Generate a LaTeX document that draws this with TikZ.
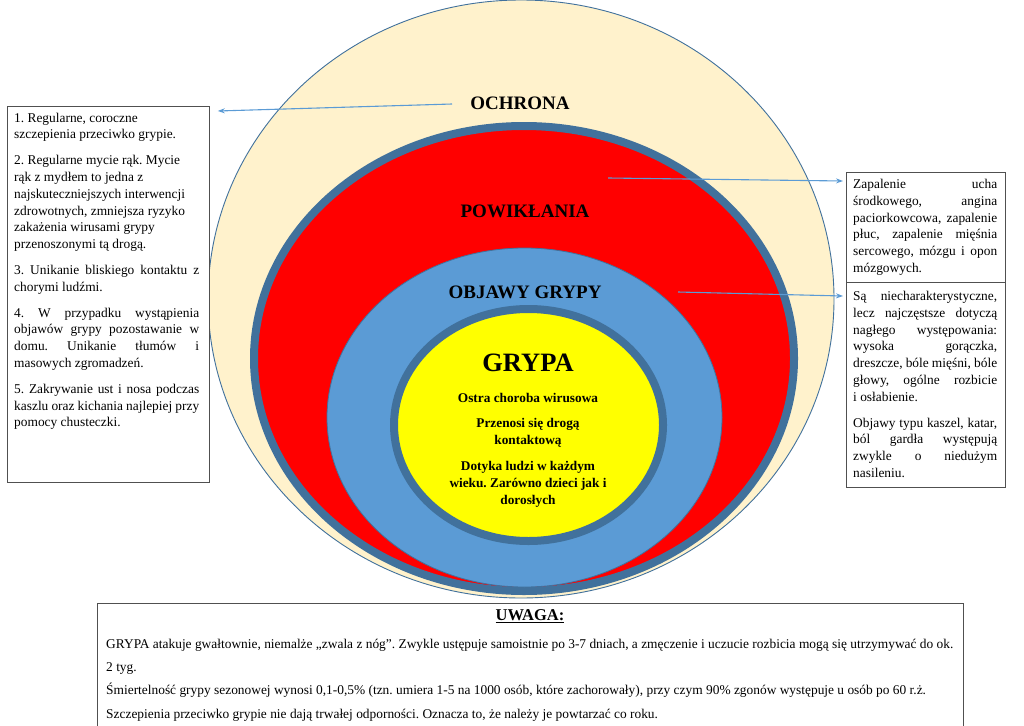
\documentclass[tikz,border=0pt]{standalone}
\usepackage{fontspec}
\setmainfont{Liberation Serif}
\usetikzlibrary{arrows.meta,shapes.geometric}
\definecolor{cream}{HTML}{FFF2CC}
\definecolor{bordblue}{HTML}{41719C}
\definecolor{midblue}{HTML}{5B9BD5}
\definecolor{redfill}{HTML}{FF0000}
\definecolor{yel}{HTML}{FFFF00}
\definecolor{boxgray}{HTML}{505050}
\newcommand\jl[2]{\makebox[#1][s]{#2}}
\frenchspacing
\begin{document}
\begin{tikzpicture}[x=1pt,y=-1pt,
  ring/.style={ellipse, inner sep=0, outer sep=0},
  lbl/.style={font=\bfseries\fontsize{19}{22}\selectfont, inner sep=0},
  inlbl/.style={font=\bfseries\fontsize{13.3}{17}\selectfont, align=center, inner sep=0},
  txtbox/.style={draw=boxgray, line width=0.8pt, anchor=north west, inner sep=0, fill=white},
  bodytxt/.style={anchor=north west, inner sep=0, align=left, font=\fontsize{13.4}{16.8}\selectfont},
  conn/.style={draw=midblue, line width=1.1pt, -{Stealth[length=7pt,width=5pt]}},
]
\useasboundingbox (0,0) rectangle (1024,725);
\clip (0,0) rectangle (1024,725);

% rings
\node[ring, fill=cream, draw=bordblue, line width=0.9pt, minimum width=626pt, minimum height=598pt] (ochrona) at (521,299) {};
\node[ring, fill=redfill, draw=bordblue, line width=8pt, minimum width=540pt, minimum height=465pt] (powiklania) at (524,358.5) {};
\node[ring, fill=midblue, draw=bordblue, line width=0.8pt, minimum width=395pt, minimum height=339pt] (objawy) at (524.5,417.5) {};
\node[ring, fill=yel, draw=bordblue, line width=8pt, minimum width=269pt, minimum height=232pt] (grypa) at (528.5,425) {};

% ring labels
\node[lbl] (tochrona) at (520,103) {OCHRONA};
\node[lbl] (tpowik) at (525,211) {POWIKŁANIA};
\node[lbl] (tobjawy) at (525,292) {OBJAWY GRYPY};
\node[font=\bfseries\fontsize{26.5}{30}\selectfont, inner sep=0] (tgrypa) at (528,363) {GRYPA};
\node[inlbl] (g1) at (528,398) {Ostra choroba wirusowa};
\node[inlbl] (g2) at (528,432.5) {Przenosi się drogą\\kontaktową};
\node[inlbl] (g3) at (528,484) {Dotyka ludzi w każdym\\wieku. Zarówno dzieci jak i\\dorosłych};

% left box
\node[txtbox, minimum width=202pt, minimum height=376pt] (lbox) at (7,106) {};
\node[bodytxt] (ltxt) at (14,112.5) {%
1. Regularne, coroczne\\
szczepienia przeciwko grypie.\\[9pt]
2. Regularne mycie rąk. Mycie\\
rąk z mydłem to jedna z\\
najskuteczniejszych interwencji\\
zdrowotnych, zmniejsza ryzyko\\
zakażenia wirusami grypy\\
przenoszonymi tą drogą.\\[9pt]
\jl{185pt}{3. Unikanie bliskiego kontaktu z}\\
chorymi ludźmi.\\[9pt]
\jl{185pt}{4. W przypadku wystąpienia}\\
\jl{185pt}{objawów grypy pozostawanie w}\\
\jl{185pt}{domu. Unikanie tłumów i}\\
masowych zgromadzeń.\\[9pt]
\jl{185pt}{5. Zakrywanie ust i nosa podczas}\\
\jl{185pt}{kaszlu oraz kichania najlepiej przy}\\
pomocy chusteczki.};

% right boxes
\node[txtbox, minimum width=159pt, minimum height=110pt] (rbox1) at (846,172) {};
\node[bodytxt] (r1txt) at (853,179) {%
\jl{144pt}{Zapalenie ucha}\\
\jl{144pt}{środkowego, angina}\\
\jl{144pt}{paciorkowcowa, zapalenie}\\
\jl{144pt}{płuc, zapalenie mięśnia}\\
\jl{144pt}{sercowego, mózgu i opon}\\
mózgowych.};
\node[txtbox, minimum width=159pt, minimum height=205pt] (rbox2) at (846,282) {};
\node[bodytxt] (r2txt) at (853,291) {%
\jl{144pt}{Są niecharakterystyczne,}\\
\jl{144pt}{lecz najczęstsze dotyczą}\\
\jl{144pt}{nagłego występowania:}\\
\jl{144pt}{wysoka gorączka,}\\
\jl{144pt}{dreszcze, bóle mięśni, bóle}\\
\jl{144pt}{głowy, ogólne rozbicie}\\
i osłabienie.\\[9pt]
\jl{144pt}{Objawy typu kaszel, katar,}\\
\jl{144pt}{ból gardła występują}\\
\jl{144pt}{zwykle o niedużym}\\
nasileniu.};

% bottom box
\node[txtbox, minimum width=866pt, minimum height=130pt] (bbox) at (97,603) {};
\node[font=\bfseries\fontsize{16.5}{19}\selectfont, inner sep=0] (uwaga) at (530,616) {\underline{UWAGA:}};
\node[anchor=north west, inner sep=0, align=left, font=\fontsize{13.4}{23.4}\selectfont] (btxt) at (106,638.5) {%
GRYPA atakuje gwałtownie, niemalże „zwala z nóg”. Zwykle ustępuje samoistnie po 3-7 dniach, a zmęczenie i uczucie rozbicia mogą się utrzymywać do ok.\\
2 tyg.\\
Śmiertelność grypy sezonowej wynosi 0,1-0,5\% (tzn. umiera 1-5 na 1000 osób, które zachorowały), przy czym 90\% zgonów występuje u osób po 60 r.ż.\\
Szczepienia przeciwko grypie nie dają trwałej odporności. Oznacza to, że należy je powtarzać co roku.};

% connectors
\coordinate (a1s) at (452,104);
\path (lbox.north east) ++(8,5) coordinate (a1e);
\draw[conn] (a1s) -- (a1e);
\coordinate (a2s) at (608,178);
\path (rbox1.north west) ++(-3,9) coordinate (a2e);
\draw[conn] (a2s) -- (a2e);
\coordinate (a3s) at (678,292);
\path (rbox2.north west) ++(-3,14) coordinate (a3e);
\draw[conn] (a3s) -- (a3e);
\end{tikzpicture}
\end{document}
